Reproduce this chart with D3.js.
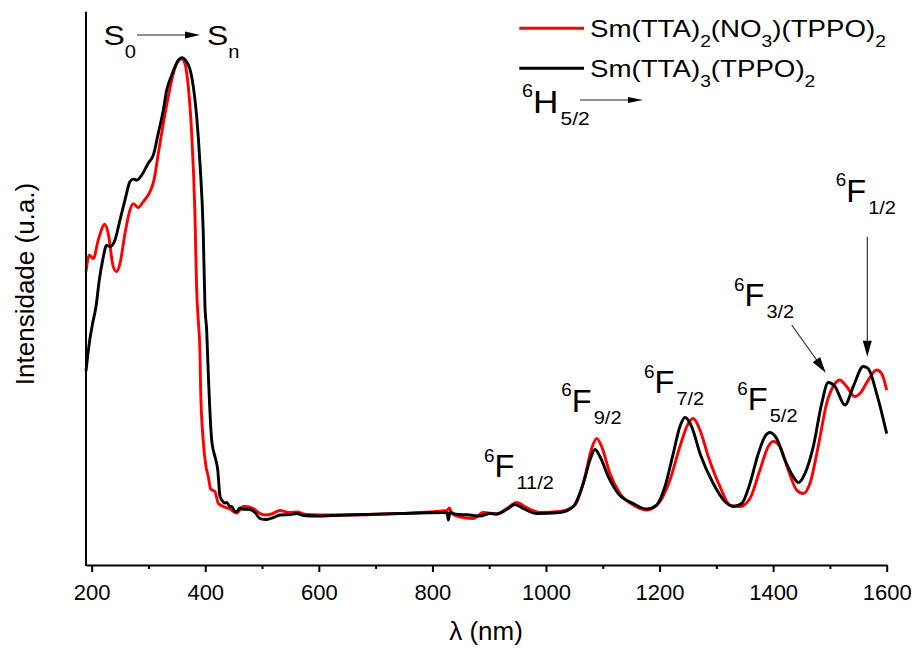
<!DOCTYPE html>
<html>
<head>
<meta charset="utf-8">
<script src="https://cdn.jsdelivr.net/npm/d3@7"></script>
<style>
  html, body { margin: 0; padding: 0; background: #fff; }
  svg { display: block; font-family: "Liberation Sans", Arial, sans-serif; }
</style>
</head>
<body>
<svg id="chart" width="915" height="651"></svg>
<script>
// ---- data (wavelength in nm, intensity in arbitrary units) ----
const redWavelength = [190,195.8,202.8,211.6,223.4,229.2,238,244,249.8,258.6,267.4,273.3,282.1,290.9,302.7,309.7,317.3,326.1,334.9,343.7,352.5,358.5,364.3,370.1,376.1,381.9,384.9,387.7,390.7,391.9,396.5,401.3,405.3,409.6,417.1,423,431.7,443.5,455.3,467,470,484.6,493.4,505.2,516.9,531.6,549.2,561,578.6,625.5,742.9,825.1,830,834,845.6,872,889.6,913.2,930.8,948.4,966,989.4,1024.6,1051,1068.6,1080.4,1089.3,1098.1,1112.7,1130.3,1153.7,1177.3,1200.7,1218.3,1235.9,1250.6,1259.4,1271.2,1285.8,1306.4,1324,1341.6,1359.2,1376.8,1391.4,1400.2,1412,1426.6,1441.4,1453,1464.8,1479.4,1494.2,1508.9,1517.6,1529.4,1544,1552.8,1567.5,1582.3,1591.1,1600];
const redIntensity  = [58.7,62.0,61.3,65.0,68.2,66.3,59.7,58.7,60.3,66.3,71.0,72.3,71.5,72.7,74.7,77.0,82.3,88.3,93.7,98.3,101.0,101.3,100.3,95.7,86.3,70.0,55.0,49.0,42.4,35.0,24.8,19.7,17.7,15.2,14.7,12.3,11.7,11.2,10.4,11.7,11.7,11.3,10.5,10.0,10.2,10.9,10.5,10.6,10.1,10.0,10.3,10.9,11.4,10.3,9.7,9.3,10.5,10.2,11.3,12.5,11.5,10.5,10.7,12.0,17.7,23.3,25.3,23.7,18.3,14.3,12.0,11.0,12.7,17.0,23.7,28.3,29.3,27.0,21.7,15.7,12.0,11.7,13.3,19.0,23.7,24.7,23.7,19.0,15.0,14.3,16.3,23.7,32.3,36.3,37.0,35.7,33.7,34.3,37.0,39.0,38.3,35.0];

const blackWavelength = [190,195.8,201.8,207.6,213.4,219.4,226.4,232.2,241,249.8,258.6,267.4,273.3,279.2,288,299.7,308.5,317.3,326.1,332.1,340.9,349.7,358.5,367.3,376.1,384.9,390.7,396.5,399.5,402.5,405.3,411.3,414.1,417.1,422,426,429,434.7,437.7,443.5,446.5,452.3,455.3,461.2,464.1,478.8,487.6,496.4,508.2,519.8,531.6,549.2,561,572.6,596.2,625.5,684.3,742.9,819.2,826,828,831,836.8,848.6,866.2,883.8,901.4,913.2,930.8,945.4,960,983.6,1024.6,1048.1,1065.7,1077.5,1086.3,1095.1,1109.7,1127.3,1153.7,1177.3,1194.9,1209.5,1224.1,1235.9,1244.7,1256.5,1271.2,1294.6,1315.2,1329.8,1344.6,1359.2,1373.9,1385.6,1394.4,1406.2,1420.8,1435.4,1444.2,1456,1470.7,1485.5,1497.1,1508.9,1526.5,1541.1,1558.7,1567.5,1582.3,1600];
const blackIntensity  = [38.8,44.4,48.4,51.7,57.0,61.0,64.0,63.7,65.0,69.0,73.0,76.7,77.2,77.0,78.0,80.4,82.0,86.4,91.0,95.0,98.0,100.4,101.5,100.7,97.7,89.7,80.4,66.4,51.7,47.0,38.4,25.0,23.0,21.7,19.0,13.7,13.0,12.4,12.5,11.7,11.7,10.7,10.7,11.4,11.2,11.1,10.5,9.3,9.1,9.5,10.0,10.1,10.3,9.9,9.8,9.9,10.1,10.3,10.5,10.4,9.0,10.6,10.3,10.1,10.0,9.8,10.3,10.2,11.1,12.1,11.3,10.3,10.5,11.7,16.3,21.0,23.1,21.7,17.7,14.3,12.3,11.2,12.0,15.7,22.3,27.7,29.5,27.7,22.3,16.3,12.7,11.7,12.3,16.3,22.3,25.7,26.5,25.3,21.0,17.7,16.5,18.3,23.7,32.3,36.5,35.7,32.0,35.7,39.7,39.3,34.3,26.3];

const seriesNames = ["Sm(TTA)2(NO3)(TPPO)2", "Sm(TTA)3(TPPO)2"];
const majorTicks = [200, 400, 600, 800, 1000, 1200, 1400, 1600];
const minorTicks = [300, 500, 700, 900, 1100, 1300, 1500];

// ---- scales ----
const svg = d3.select("#chart");
const x = d3.scaleLinear().domain([190, 1600]).range([86, 886.7]);
const y = d3.scaleLinear().domain([0, 110.7]).range([565, 11.7]);

// ---- curves ----
const line = d3.line().x(d => x(d[0])).y(d => y(d[1])).curve(d3.curveMonotoneX);
const redData = redWavelength.map((w, i) => [w, redIntensity[i]]);
const blackData = blackWavelength.map((w, i) => [w, blackIntensity[i]]);

svg.append("path").datum(redData).attr("d", line)
  .attr("fill", "none").attr("stroke", "#ff0000").attr("stroke-width", 2.9).attr("stroke-linejoin", "round");
svg.append("path").datum(blackData).attr("d", line)
  .attr("fill", "none").attr("stroke", "#000").attr("stroke-width", 2.9).attr("stroke-linejoin", "round");

// ---- axes ----
const xAxis = svg.append("g").attr("transform", `translate(0,${y(0)})`)
  .call(d3.axisBottom(x).tickValues(majorTicks).tickSize(7).tickSizeOuter(0).tickPadding(12.5).tickFormat(d3.format("d")));
xAxis.select(".domain").attr("stroke-width", 2);
xAxis.selectAll(".tick line").attr("stroke-width", 2);
xAxis.selectAll(".tick text").attr("font-size", 22).attr("font-family", "Liberation Sans, Arial, sans-serif").attr("fill", "#000");

const xMinor = svg.append("g").attr("transform", `translate(0,${y(0)})`)
  .call(d3.axisBottom(x).tickValues(minorTicks).tickSize(4).tickSizeOuter(0).tickFormat(""));
xMinor.select(".domain").remove();
xMinor.selectAll(".tick line").attr("stroke-width", 2);

svg.append("line").attr("x1", x(190)).attr("x2", x(190)).attr("y1", y.range()[1]).attr("y2", y(0) + 1)
  .attr("stroke", "#000").attr("stroke-width", 2);

// axis titles
svg.append("text").attr("x", 486).attr("y", 640).attr("text-anchor", "middle")
  .attr("font-size", 26).text("λ (nm)");
svg.append("text").attr("transform", "translate(33.5,284) rotate(-90)").attr("text-anchor", "middle")
  .attr("font-size", 26).text("Intensidade (u.a.)");

// ---- helpers ----
function arrowHead(x1, y1, x2, y2, len, half) {
  const a = Math.atan2(y2 - y1, x2 - x1);
  const bx = x2 - len * Math.cos(a), by = y2 - len * Math.sin(a);
  const px = -Math.sin(a) * half, py = Math.cos(a) * half;
  svg.append("path").attr("d", `M${x2},${y2}L${bx + px},${by + py}L${bx - px},${by - py}Z`).attr("fill", "#000");
}
function arrow(x1, y1, x2, y2, len, half) {
  const a = Math.atan2(y2 - y1, x2 - x1);
  svg.append("line").attr("x1", x1).attr("y1", y1)
    .attr("x2", x2 - (len - 2) * Math.cos(a)).attr("y2", y2 - (len - 2) * Math.sin(a))
    .attr("stroke", "#222").attr("stroke-width", 1.1);
  arrowHead(x1, y1, x2, y2, len, half);
}
// text group stretched horizontally (the reference type is a little wide)
function stretchedText(px, py, sx) {
  return svg.append("g").attr("transform", `translate(${px},${py}) scale(${sx},1)`)
    .append("text").attr("x", 0).attr("y", 0).attr("fill", "#000");
}
// level label: superscript, main letter, subscript
function level(px, py, sup, main, sub, mainSize, sx) {
  const t = stretchedText(px, py, sx);
  t.append("tspan").attr("font-size", 18).attr("dy", -15.5).text(sup);
  t.append("tspan").attr("font-size", mainSize).attr("dy", 15.5).text(main);
  t.append("tspan").attr("font-size", 19).attr("dx", 2).attr("dy", 12).text(sub);
}

// ---- S0 -> Sn ----
{
  const t1 = stretchedText(103.5, 45, 1.12);
  t1.append("tspan").attr("font-size", 28.5).text("S");
  t1.append("tspan").attr("font-size", 18).attr("dy", 13).text("0");
  const t2 = stretchedText(207, 45, 1.12);
  t2.append("tspan").attr("font-size", 28.5).text("S");
  t2.append("tspan").attr("font-size", 18).attr("dy", 13).text("n");
  arrow(137, 35, 200, 35, 15, 3.5);
}

// ---- legend ----
const legendColors = ["#ff0000", "#000"];
const legendY = [28.3, 68.3];
const legendParts = [
  [["Sm(TTA)", 0], ["2", 1], ["(NO", 0], ["3", 1], [")(TPPO)", 0], ["2", 1]],
  [["Sm(TTA)", 0], ["3", 1], ["(TPPO)", 0], ["2", 1]]
];
seriesNames.forEach((name, i) => {
  svg.append("line").attr("x1", 519.3).attr("x2", 584).attr("y1", legendY[i]).attr("y2", legendY[i])
    .attr("stroke", legendColors[i]).attr("stroke-width", 2.9);
  const t = stretchedText(590, legendY[i] + 8.8, 1.13);
  let prev = 0;
  legendParts[i].forEach(([s, isSub]) => {
    const dy = isSub === prev ? 0 : (isSub ? 9.5 : -9.5);
    t.append("tspan").attr("font-size", isSub ? 17 : 24.5).attr("dy", dy).text(s);
    prev = isSub;
  });
});

// ---- 6H5/2 ----
level(522, 112.5, "6", "H", "5/2", 32, 1.1);
arrow(580, 100, 643, 100, 15, 3);

// ---- 6F levels ----
level(484, 477.3, "6", "F", "11/2", 31, 1.05);
level(561.3, 411.7, "6", "F", "9/2", 31, 1.05);
level(644, 393.3, "6", "F", "7/2", 31, 1.05);
level(737.3, 410, "6", "F", "5/2", 31, 1.05);
level(734, 306, "6", "F", "3/2", 31, 1.05);
level(835.7, 201.7, "6", "F", "1/2", 31, 1.05);
arrow(791.7, 325, 825.7, 372.7, 16, 4.5);
arrow(867.3, 236.7, 867.3, 356.7, 16, 4.5);
</script>
</body>
</html>
